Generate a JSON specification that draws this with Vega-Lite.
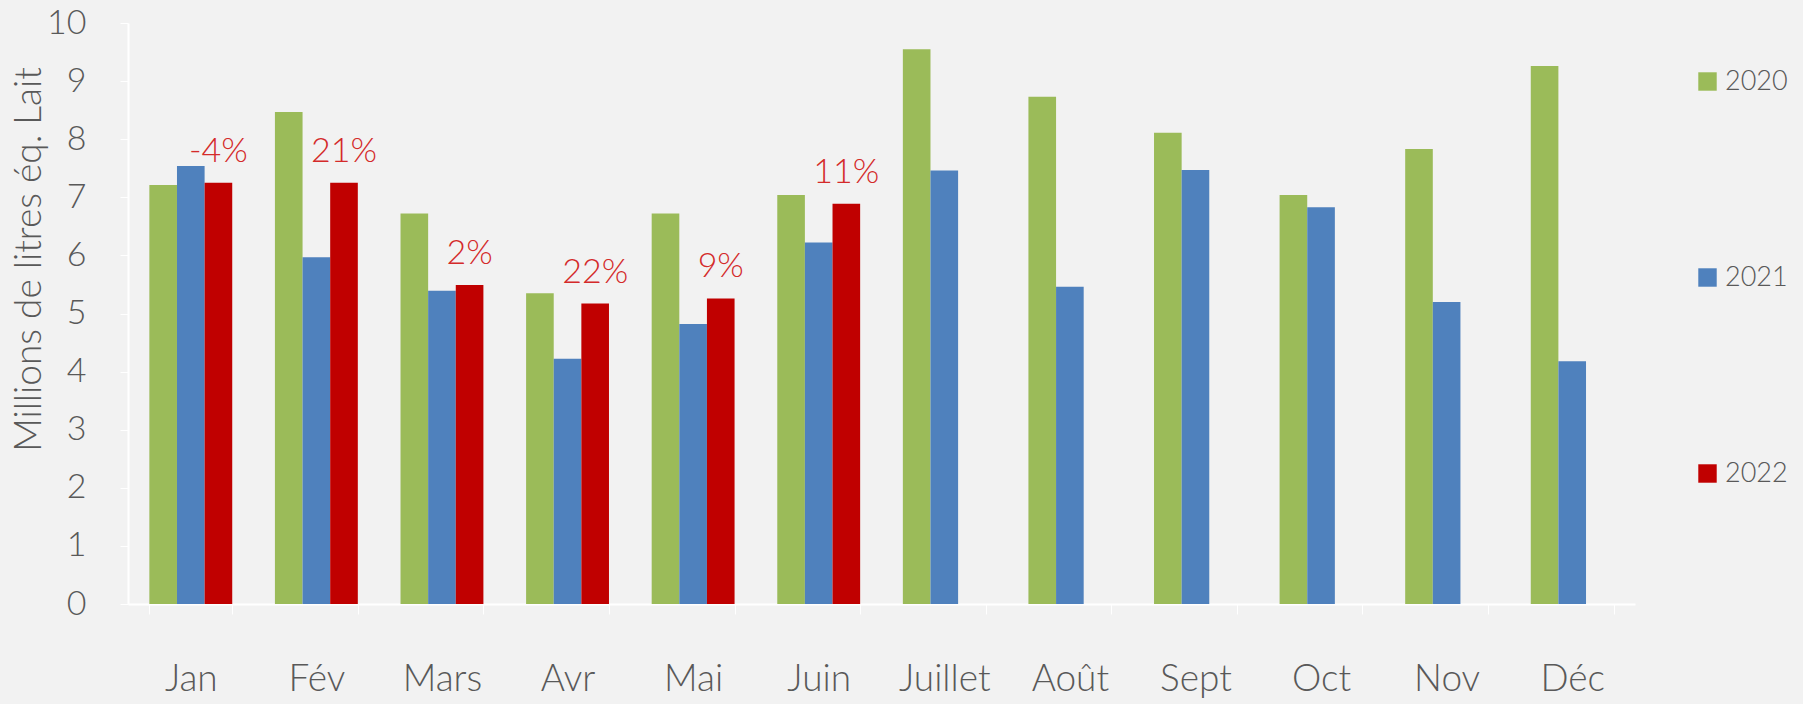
{
  "$schema": "https://vega.github.io/schema/vega-lite/v6.json",
  "autosize": "none",
  "width": 1507,
  "height": 581,
  "padding": {"left": 128, "top": 23, "right": 168, "bottom": 100},
  "background": "#F2F2F2",
  "config": {
    "font": "Lato",
    "view": {"stroke": null},
    "axis": {"labelFont": "Lato", "titleFont": "Lato", "labelFontWeight": 300, "titleFontWeight": 300, "labelColor": "#595959", "titleColor": "#595959"},
    "legend": {"labelFont": "Lato", "labelFontWeight": 300}
  },
  "data": {
    "values": [
      {"mois": "Jan", "annee": "2020", "valeur": 7.21},
      {"mois": "Jan", "annee": "2021", "valeur": 7.54},
      {"mois": "Jan", "annee": "2022", "valeur": 7.25, "pct": "-4%"},
      {"mois": "Fév", "annee": "2020", "valeur": 8.47},
      {"mois": "Fév", "annee": "2021", "valeur": 5.97},
      {"mois": "Fév", "annee": "2022", "valeur": 7.25, "pct": "21%"},
      {"mois": "Mars", "annee": "2020", "valeur": 6.72},
      {"mois": "Mars", "annee": "2021", "valeur": 5.39},
      {"mois": "Mars", "annee": "2022", "valeur": 5.49, "pct": "2%"},
      {"mois": "Avr", "annee": "2020", "valeur": 5.35},
      {"mois": "Avr", "annee": "2021", "valeur": 4.22},
      {"mois": "Avr", "annee": "2022", "valeur": 5.17, "pct": "22%"},
      {"mois": "Mai", "annee": "2020", "valeur": 6.72},
      {"mois": "Mai", "annee": "2021", "valeur": 4.82},
      {"mois": "Mai", "annee": "2022", "valeur": 5.26, "pct": "9%"},
      {"mois": "Juin", "annee": "2020", "valeur": 7.04},
      {"mois": "Juin", "annee": "2021", "valeur": 6.22},
      {"mois": "Juin", "annee": "2022", "valeur": 6.89, "pct": "11%"},
      {"mois": "Juillet", "annee": "2020", "valeur": 9.55},
      {"mois": "Juillet", "annee": "2021", "valeur": 7.46},
      {"mois": "Août", "annee": "2020", "valeur": 8.73},
      {"mois": "Août", "annee": "2021", "valeur": 5.46},
      {"mois": "Sept", "annee": "2020", "valeur": 8.11},
      {"mois": "Sept", "annee": "2021", "valeur": 7.47},
      {"mois": "Oct", "annee": "2020", "valeur": 7.04},
      {"mois": "Oct", "annee": "2021", "valeur": 6.83},
      {"mois": "Nov", "annee": "2020", "valeur": 7.83},
      {"mois": "Nov", "annee": "2021", "valeur": 5.20},
      {"mois": "Déc", "annee": "2020", "valeur": 9.26},
      {"mois": "Déc", "annee": "2021", "valeur": 4.18}
    ]
  },
  "encoding": {
    "x": {
      "field": "mois", "type": "nominal",
      "sort": ["Jan", "Fév", "Mars", "Avr", "Mai", "Juin", "Juillet", "Août", "Sept", "Oct", "Nov", "Déc"],
      "scale": {"paddingInner": 0.34, "paddingOuter": 0.17},
      "axis": {"title": null, "labelAngle": 0, "labelFontSize": 37, "labelPadding": 47, "tickColor": "#FFFFFF", "tickSize": 10, "domainColor": "#FFFFFF", "domainWidth": 2, "tickBand": "extent"}
    },
    "xOffset": {"field": "annee", "type": "nominal", "scale": {"domain": ["2020", "2021", "2022"], "paddingInner": 0, "paddingOuter": 0}},
    "y": {
      "field": "valeur", "type": "quantitative",
      "scale": {"domain": [0, 10]},
      "axis": {"title": "Millions de litres éq. Lait", "titleFontSize": 37, "titleX": -80, "titleY": 236, "titleAlign": "center", "labelFontSize": 34, "labelPadding": 34, "tickCount": 10, "grid": false, "tickColor": "#FFFFFF", "tickSize": 8, "domainColor": "#FFFFFF", "domainWidth": 2}
    }
  },
  "layer": [
    {
      "mark": {"type": "bar", "opacity": 1},
      "encoding": {
        "color": {
          "field": "annee", "type": "nominal",
          "scale": {"domain": ["2020", "2021", "2022"], "range": ["#9BBB59", "#4F81BD", "#C00000"]},
          "legend": {"title": null, "orient": "none", "legendX": 1566, "legendY": 45, "direction": "vertical", "symbolType": "square", "symbolSize": 340, "symbolStrokeWidth": 0, "symbolOpacity": 1, "labelFontSize": 27, "labelColor": "#595959", "rowPadding": 168, "labelOffset": 4}
        }
      }
    },
    {
      "transform": [{"filter": "datum.pct != null"}],
      "mark": {"type": "text", "baseline": "alphabetic", "align": "center", "dy": -21, "fontSize": 34, "fontWeight": 300, "color": "#D42A2A"},
      "encoding": {"text": {"field": "pct", "type": "nominal"}}
    }
  ]
}
